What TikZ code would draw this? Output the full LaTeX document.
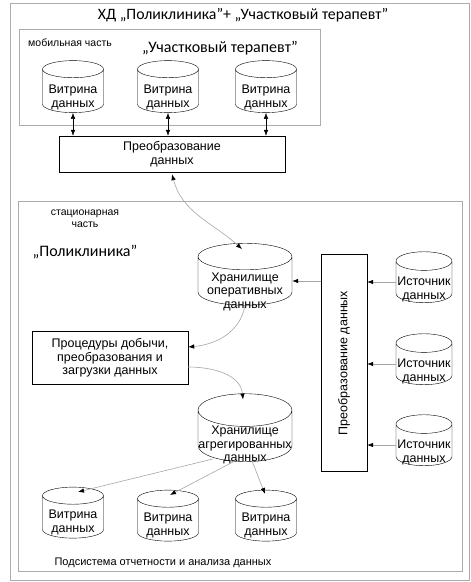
\documentclass[tikz,border=0pt]{standalone}
\usepackage{fontspec}
\setmainfont{Liberation Sans}
\newfontfamily\calibfont{Carlito}
\usepackage{tikz}
\usetikzlibrary{shapes.geometric, arrows.meta, calc}

% текст внутри цилиндра, чуть ниже центра
\newcommand{\cyltxt}[2]{\raisebox{-#1}[0pt][0pt]{\begin{tabular}{@{}c@{}}#2\end{tabular}}}

\begin{document}
\begin{tikzpicture}[x=1pt, y=1pt,
    baza/.style={cylinder, shape border rotate=90, aspect=0.35, draw, align=center,
      inner sep=0pt, font=\fontsize{12.5}{13.5}\selectfont},
    vitr/.style={baza, minimum width=61pt, minimum height=52pt},
    blok/.style={draw, align=center, inner sep=0pt, font=\fontsize{12.5}{13.5}\selectfont},
    ramka/.style={draw=gray!65, line width=0.8pt},
    strel/.style={draw=gray!70, line width=0.6pt, -{Latex[color=black, length=6pt, width=4.5pt]}},
    dvstrel/.style={draw=gray!70, line width=0.6pt,
      {Latex[color=black, length=6pt, width=4.5pt]}-{Latex[color=black, length=6pt, width=4.5pt]}},
    chstrel/.style={line width=0.5pt,
      {Latex[length=6pt, width=4.5pt]}-{Latex[length=6pt, width=4.5pt]}}
  ]
  \useasboundingbox (0,0) rectangle (471,582);

  % Рамки
  \draw[ramka] (10,2) rectangle (469,579);
  \draw[ramka] (19,457) rectangle (320,553);
  \draw[ramka] (18,11) rectangle (462,381);

  % Подписи
  \node (title) at (243,567) {\calibfont\fontsize{15.8}{17}\selectfont ХД „Поликлиника”+ „Участковый терапевт”};
  \node (mobtxt) at (70,539) {\fontsize{10.5}{12}\selectfont мобильная часть};
  \node (uchtxt) at (220,534) {\calibfont\fontsize{16}{17}\selectfont „Участковый терапевт”};
  \node[align=center, font=\fontsize{10.5}{12}\selectfont] (stactxt) at (85,363) {стационарная\\часть};
  \node (poltxt) at (85,330) {\calibfont\fontsize{16}{17}\selectfont „Поликлиника”};
  \node (podtxt) at (163,19) {\fontsize{11}{12}\selectfont Подсистема отчетности и анализа данных};

  % Мобильная часть
  \node[vitr] (vt1) at (73,491) {\cyltxt{9.6pt}{Витрина\\данных}};
  \node[vitr] (vt2) at (168,491) {\cyltxt{9.6pt}{Витрина\\данных}};
  \node[vitr] (vt3) at (266,491) {\cyltxt{9.6pt}{Витрина\\данных}};
  \node[blok, minimum width=226pt, minimum height=36pt] (pb) at (172,428) {Преобразование\\данных};

  \foreach \v in {vt1, vt2, vt3}
    \draw[chstrel] (\v.south) -- (\v.south |- pb.north);

  % Стационарная часть
  \node[baza, minimum width=94pt, minimum height=62pt] (ohd) at (245,301) {\cyltxt{14pt}{Хранилище\\оперативных\\данных}};
  \node[blok, minimum width=46pt, minimum height=217pt] (pv) at (344,219) {};
  \node[rotate=90, font=\fontsize{12.5}{13.5}\selectfont] (pvtxt) at (pv.center) {Преобразование данных};
  \node[baza, minimum width=56pt, minimum height=51pt] (src1) at (424,300) {\cyltxt{10.6pt}{Источник\\данных}};
  \node[baza, minimum width=56pt, minimum height=51pt] (src2) at (424,218) {\cyltxt{10.6pt}{Источник\\данных}};
  \node[baza, minimum width=56pt, minimum height=51pt] (src3) at (424,137) {\cyltxt{10.6pt}{Источник\\данных}};
  \node[blok, minimum width=156pt, minimum height=53pt] (proc) at (110,224) {Процедуры добычи,\\преобразования и\\загрузки данных};
  \node[baza, minimum width=94pt, minimum height=68pt] (agr) at (245,146) {\cyltxt{12.5pt}{Хранилище\\агрегированных\\данных}};
  \node[vitr, minimum height=51pt] (vb1) at (73,65) {\cyltxt{9pt}{Витрина\\данных}};
  \node[vitr, minimum height=51pt] (vb2) at (168,62) {\cyltxt{9pt}{Витрина\\данных}};
  \node[vitr, minimum height=51pt] (vb3) at (266,62) {\cyltxt{9pt}{Витрина\\данных}};

  % Связи
  \draw[dvstrel] ($(pb.south)+(0,-2)$) to[out=-75, in=138] ($(ohd.north)+(-3,-6)$);
  \foreach \s in {src1, src2, src3}
    \draw[strel] (\s.west) -- (pv.east |- \s.west);
  \draw[strel] (pv.west |- ohd.east) -- (ohd.east);
  \draw[strel] (ohd.south) to[out=-100, in=5] ($(proc.east)+(0,11)$);
  \draw[strel] ($(proc.east)+(0,-9)$) to[out=0, in=95] ($(agr.north)+(-2,-6)$);
  \draw[strel] ($(agr.south)+(-32,3)$) -- ($(vb1.north)+(5,-5)$);
  \draw[strel] ($(agr.south)+(-10,1)$) -- ($(vb2.north)+(2,-5)$);
  \draw[strel] ($(agr.south)+(7,1)$) -- ($(vb3.north)+(-1,-4)$);
\end{tikzpicture}
\end{document}
